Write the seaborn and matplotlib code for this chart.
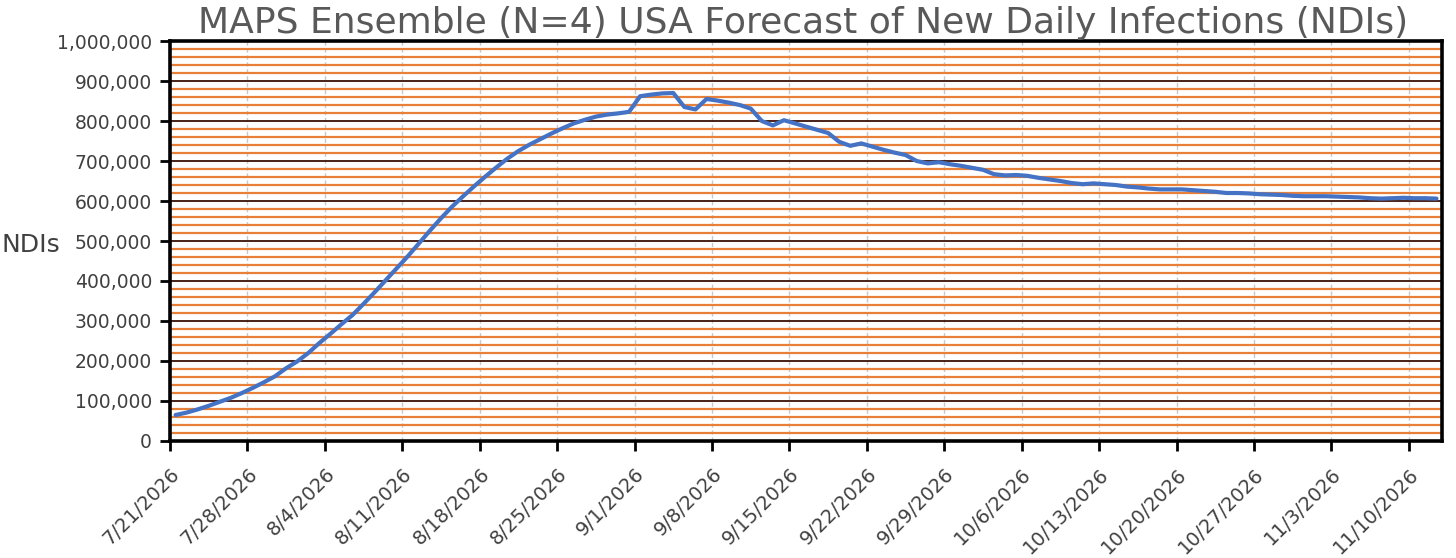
import matplotlib
matplotlib.use("Agg")
import matplotlib.pyplot as plt
import matplotlib.ticker as mticker
import matplotlib.transforms as mtransforms
import pandas as pd
import seaborn as sns

# forecast values (new daily infections), one per day from the start date
start_date = "2026-07-21"
ndi_values = [
    65000, 71000, 79000, 88000, 98000, 108000, 120000, 133000, 147000, 162000,
    182000, 199000, 220000, 245000, 268000, 292000, 315000, 343000, 372000, 402000,
    432000, 462000, 494000, 526000, 557000, 586000, 612000, 637000, 661000, 684000,
    706000, 725000, 741000, 755000, 769000, 782000, 794000, 803000, 811000, 816000,
    819000, 823000, 862000, 866000, 869000, 870000, 835000, 829000, 855000, 851000,
    846000, 840000, 831000, 800000, 789000, 802000, 794000, 786000, 778000, 770000,
    748000, 738000, 744000, 736000, 728000, 721000, 715000, 700000, 694000, 697000,
    692000, 688000, 683000, 678000, 667000, 664000, 665000, 663000, 658000, 654000,
    650000, 645000, 642000, 644000, 642000, 640000, 636000, 634000, 631000, 629000,
    629000, 629000, 627000, 625000, 623000, 620000, 620000, 619000, 617000, 616000,
    615000, 613000, 612000, 612000, 612000, 611000, 610000, 609000, 607000, 606000,
    607000, 608000, 607000, 607000, 606000,
]
n_ticks = 17
title = "MAPS Ensemble (N=4) USA Forecast of New Daily Infections (NDIs)"
y_label = "NDIs"

dates = pd.date_range(start_date, periods=len(ndi_values), freq="D") + pd.Timedelta(hours=12)
df = pd.DataFrame({"date": dates, "ndi": ndi_values})
tick_dates = pd.date_range(start_date, periods=n_ticks, freq="7D")
tick_labels = [f"{d.month}/{d.day}/{d.year}" for d in tick_dates]

sns.set_style("white")
plt.rcParams["font.family"] = ["DejaVu Sans"]

fig = plt.figure(figsize=(14.56, 5.58), dpi=100)
ax = fig.add_axes([0.1168, 0.2097, 0.8736, 0.7168])

sns.lineplot(data=df, x="date", y="ndi", ax=ax, color="#4472C4", linewidth=3.0, zorder=5)

ax.set_ylim(0, 1000000)
ax.set_xlim(pd.Timestamp(start_date), pd.Timestamp(start_date) + pd.Timedelta(days=len(ndi_values)))
ax.yaxis.set_major_locator(mticker.MultipleLocator(100000))
ax.yaxis.set_minor_locator(mticker.MultipleLocator(20000))
ax.yaxis.set_major_formatter(mticker.FuncFormatter(lambda v, p: f"{int(v):,}"))
ax.set_xticks(tick_dates)
ax.set_xticklabels(tick_labels, rotation=45, ha="right", rotation_mode="anchor")
# nudge the slanted labels a little right, like the original
shift = mtransforms.ScaledTranslation(6 / 100, 0, fig.dpi_scale_trans)
for lbl in ax.get_xticklabels():
    lbl.set_transform(lbl.get_transform() + shift)

ax.grid(axis="y", which="minor", color="#E8803A", linewidth=1.6, zorder=1)
ax.grid(axis="y", which="major", color="#3a1005", linewidth=1.3, zorder=2)
ax.grid(axis="x", which="major", color="#c8c8c8", linewidth=1.0, linestyle=(0, (3, 2)), zorder=1)
ax.set_axisbelow(True)

for s in ax.spines.values():
    s.set_visible(True)
    s.set_color("black")
    s.set_linewidth(2.6)

ax.tick_params(axis="y", which="major", direction="out", length=7, width=2, color="black",
               labelsize=13.5, labelcolor="#404040", pad=6, left=True)
ax.tick_params(axis="y", which="minor", left=False)
ax.tick_params(axis="x", which="major", direction="out", length=7, width=2, color="black",
               labelsize=14, labelcolor="#404040", pad=10, bottom=True)

ax.set_xlabel("")
ax.set_ylabel("")
fig.text(0.001, 0.561, y_label, fontsize=18, color="#404040", ha="left", va="center")
fig.text(0.5515, 0.958, title, fontsize=26, color="#595959", ha="center", va="center")

fig.savefig("out.png", dpi=100)
